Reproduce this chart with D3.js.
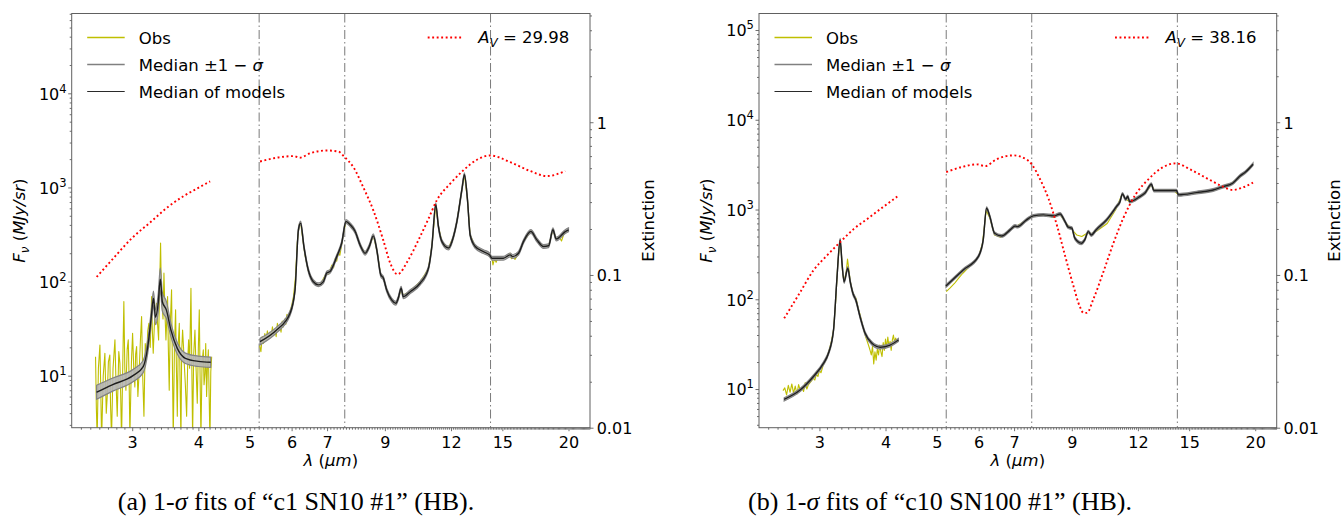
<!DOCTYPE html>
<html><head><meta charset="utf-8">
<script src="https://cdn.jsdelivr.net/npm/d3@7"></script>
<style>
body{margin:0;background:#fff;}
svg{display:block;}
text{font-family:"DejaVu Sans",sans-serif;}
</style></head><body>
<svg id="c" width="1344" height="518"></svg>
<script>
// ---------- shared axis data ----------
const X_TICKS = [3,4,5,6,7,9,12,15,20];
const SEG_LINES = [5.21, 7.56, 14.25];
const X_DOMAIN = [2.306, 21.96];
const EXT_DOMAIN = [0.01, 5.15];
const EXT_TICKS = [0.01, 0.1, 1];
const EXT_LABELS = ["0.01", "0.1", "1"];

// ---------- panel (a) ----------
const aYDomain = [2.8, 70500];
const aYTicks = [10, 100, 1000, 10000];
const aAv = "29.98";
const aCaption = ["(a) 1-", "σ", " fits of “c1 SN10 #1” (HB)."];
const aObs1 = [[2.558,15.9],[2.567,4.5],[2.576,2.2],[2.59,12],[2.607,21.2],[2.616,8],[2.626,2.0],[2.645,10],[2.664,17.3],[2.68,4],[2.691,6.0],[2.705,14],[2.722,16.6],[2.73,5],[2.742,2.2],[2.76,12],[2.783,24.0],[2.795,9],[2.811,3.7],[2.83,18],[2.844,13.5],[2.854,6],[2.864,2.0],[2.88,14],[2.893,61.3],[2.905,12],[2.919,7.0],[2.935,19],[2.949,24.0],[2.96,9],[2.970,2.3],[2.99,14],[3.005,28.2],[3.02,12],[3.035,7.6],[3.045,17],[3.058,20.4],[3.075,6],[3.093,11.5],[3.11,25],[3.125,42.5],[3.14,10],[3.157,3.7],[3.175,22],[3.194,15.9],[3.21,30],[3.226,36.1],[3.245,20],[3.264,69.3],[3.275,30],[3.287,17.3],[3.31,45],[3.336,58.9],[3.35,35],[3.365,24.0],[3.38,90],[3.394,256],[3.405,80],[3.419,54.2],[3.43,40],[3.444,122.8],[3.46,45],[3.474,24.0],[3.487,40],[3.499,69.3],[3.51,20],[3.524,7.0],[3.54,35],[3.560,81.6],[3.572,15],[3.586,2.2],[3.605,20],[3.623,50],[3.636,12],[3.650,3.7],[3.665,22],[3.682,36.1],[3.695,8],[3.708,2.0],[3.72,18],[3.735,30.6],[3.75,20],[3.762,13.5],[3.78,8],[3.801,3.7],[3.82,15],[3.834,24.0],[3.85,12],[3.873,85],[3.887,14],[3.901,2.2],[3.92,17],[3.941,30.6],[3.96,12],[3.981,5.1],[4.0,20],[4.016,50],[4.03,10],[4.045,2.2],[4.065,14],[4.087,18.8],[4.1,8],[4.117,10.6],[4.13,22],[4.146,6.0],[4.16,12],[4.177,18.8],[4.19,7],[4.207,2.0],[4.222,11],[4.238,15.9]];
const aObs2 = [[5.22,21],[5.25,18],[5.28,26],[5.31,22],[5.34,28],[5.37,24],[5.40,30],[5.43,25],[5.46,29],[5.49,26],[5.52,33],[5.55,27],[5.58,31],[5.61,26],[5.64,36],[5.67,30],[5.70,34],[5.73,29],[5.76,38],[5.79,33],[5.82,40],[5.85,35],[5.88,45],[5.91,40],[5.95,47],[6.0,55],[6.05,70],[6.10,110],[6.15,260],[6.20,400],[6.24,420],[6.30,280],[6.36,190],[6.45,130],[6.55,105],[6.65,95],[6.74,92],[6.82,96],[6.89,108],[6.95,118],[7.0,125],[7.05,120],[7.1,135],[7.15,150],[7.2,140],[7.25,175],[7.30,165],[7.35,205],[7.40,190],[7.46,250],[7.52,330],[7.60,430],[7.74,400],[7.91,340],[8.08,245],[8.26,200],[8.41,236],[8.56,306],[8.69,217],[8.84,118],[8.94,109],[9.07,82],[9.27,62],[9.44,58],[9.54,66],[9.66,82],[9.75,72],[9.9,75],[10.05,80],[10.25,88],[10.49,100],[10.7,118],[10.88,139],[11.04,236],[11.23,655],[11.36,385],[11.53,267],[11.87,227],[12.13,301],[12.31,434],[12.58,946],[12.72,1366],[12.89,740],[13.04,314],[13.33,236],[13.82,208],[14.19,192],[14.34,177],[14.4,150],[14.5,175],[14.6,160],[14.7,178],[14.85,170],[15.07,177],[15.3,182],[15.52,200],[15.6,175],[15.69,184],[15.85,172],[16.09,200],[16.45,267],[16.7,300],[16.98,350],[17.2,310],[17.43,277],[17.94,236],[18.34,240],[18.69,355],[18.96,283],[19.2,300],[19.4,270],[19.6,320],[19.72,330],[20.0,350]];
// [wavelength, median flux, 1-sigma in dex]
const aMed1 = [[2.57,6.66,0.075],[2.75,8.0,0.07],[3.01,10,0.065],[3.147,12.5,0.065],[3.21,20.4,0.07],[3.26,42.5,0.07],[3.29,66.5,0.075],[3.32,41.8,0.08],[3.36,60,0.1],[3.39,106,0.12],[3.42,61,0.1],[3.48,50,0.09],[3.55,30.6,0.07],[3.65,19.5,0.06],[3.78,15.3,0.055],[4.0,14.2,0.055],[4.22,13.9,0.055]];
const aMed2 = [[5.23,23.0,0.035],[5.62,30.6,0.03],[5.96,46.1,0.025],[6.09,81.6,0.02],[6.18,355,0.02],[6.24,418,0.02],[6.33,235,0.02],[6.45,133,0.02],[6.59,100,0.02],[6.74,92.3,0.02],[6.89,100,0.02],[6.99,123,0.02],[7.09,128,0.02],[7.30,184,0.02],[7.46,256,0.02],[7.60,434,0.02],[7.74,401,0.02],[7.91,340,0.02],[8.08,245,0.02],[8.26,200,0.02],[8.41,236,0.02],[8.56,306,0.02],[8.69,217,0.02],[8.84,118,0.02],[8.94,109,0.02],[9.07,81.6,0.02],[9.27,63.8,0.02],[9.44,58.9,0.02],[9.54,66.5,0.02],[9.66,85,0.02],[9.75,69,0.02],[10.05,78,0.02],[10.49,96,0.02],[10.88,139,0.02],[11.04,236,0.02],[11.23,655,0.02],[11.36,385,0.02],[11.53,267,0.02],[11.87,227,0.02],[12.13,301,0.02],[12.31,434,0.02],[12.58,946,0.02],[12.72,1366,0.02],[12.89,740,0.02],[13.04,314,0.02],[13.33,236,0.02],[13.82,208,0.02],[14.19,192,0.02],[14.34,177,0.02],[15.07,177,0.02],[15.52,192,0.02],[15.69,184,0.02],[16.09,200,0.02],[16.45,267,0.02],[16.98,340,0.02],[17.43,277,0.02],[17.94,236,0.02],[18.34,240,0.02],[18.69,355,0.02],[18.96,283,0.02],[19.72,340,0.02],[20.0,355,0.02]];
const aExt1 = [[2.57,0.097],[2.75,0.126],[3.0,0.175],[3.25,0.222],[3.5,0.278],[3.75,0.328],[4.0,0.372],[4.21,0.41]];
const aExt2 = [[5.23,0.553],[5.70,0.59],[6.06,0.60],[6.21,0.585],[6.51,0.627],[6.99,0.653],[7.35,0.643],[7.56,0.59],[7.85,0.508],[8.19,0.376],[8.56,0.265],[8.94,0.1685],[9.22,0.1187],[9.51,0.101],[9.96,0.125],[10.41,0.1685],[10.88,0.2335],[11.28,0.308],[11.96,0.396],[12.65,0.483],[13.43,0.568],[14.23,0.606],[15.52,0.548],[16.93,0.479],[18.2,0.444],[19.72,0.479]];

// ---------- panel (b) ----------
const bYDomain = [3.71, 152700];
const bYTicks = [10, 100, 1000, 10000, 100000];
const bAv = "38.16";
const bCaption = ["(b) 1-", "σ", " fits of “c10 SN100 #1” (HB)."];
const bObs1 = [[2.56,9.6],[2.58,10.3],[2.60,8.6],[2.62,11.0],[2.64,9.2],[2.66,11.4],[2.68,9.0],[2.70,10.8],[2.72,8.8],[2.74,11.2],[2.76,9.6],[2.78,10.4],[2.80,9.4],[2.82,11.8],[2.84,10.0],[2.86,11.2],[2.88,11.8],[2.90,12.4],[2.92,13.2],[2.94,12.6],[2.96,14.6],[2.98,13.8],[3.00,16.0],[3.02,15.2],[3.05,18.5],[3.08,20.5],[3.12,25.5],[3.16,34],[3.19,46],[3.22,95],[3.25,250],[3.28,440],[3.30,330],[3.32,190],[3.34,160],[3.37,200],[3.39,280],[3.41,215],[3.43,160],[3.46,125],[3.49,110],[3.52,102],[3.55,80],[3.58,68],[3.61,55],[3.64,45],[3.67,38],[3.70,33],[3.72,30],[3.74,27],[3.76,24],[3.78,30],[3.80,19],[3.82,26],[3.84,21],[3.86,28],[3.88,24],[3.90,31],[3.92,26],[3.94,23],[3.96,33],[3.98,27],[4.00,36],[4.02,29],[4.04,38],[4.06,30],[4.08,34],[4.10,27],[4.12,35],[4.14,40],[4.16,33],[4.18,37],[4.20,34],[4.23,35]];
const bObs2 = [[5.21,122],[5.3,134],[5.4,150],[5.5,172],[5.6,195],[5.8,240],[6.0,300],[6.1,420],[6.2,980],[6.3,800],[6.43,520],[6.6,490],[6.88,600],[7.1,660],[7.4,770],[7.6,850],[8.0,870],[8.3,820],[8.55,880],[8.75,720],[9.0,600],[9.2,520],[9.4,500],[9.6,540],[9.8,540],[10.0,570],[10.5,700],[10.9,1000],[11.2,1480],[11.4,1300],[11.6,1210],[12.1,1380],[12.4,1530],[12.73,1880],[12.9,1640],[13.3,1640],[14.0,1650],[14.3,1470],[15.0,1520],[15.5,1520],[16.0,1560],[16.65,1630],[17.4,1800],[18.1,1990],[18.7,2300],[19.2,2680],[19.8,3250]];
const bMed1 = [[2.573,7.67,0.018],[2.758,9.75,0.018],[2.92,13.7,0.018],[3.053,19.3,0.018],[3.12,25.0,0.018],[3.19,45.5,0.018],[3.236,164,0.018],[3.283,458,0.018],[3.31,252,0.018],[3.34,157,0.018],[3.394,222,0.018],[3.43,157,0.018],[3.47,117,0.018],[3.515,98,0.018],[3.58,64,0.018],[3.66,41.8,0.018],[3.77,32.3,0.018],[3.907,29.2,0.018],[4.08,30.9,0.018],[4.23,35.2,0.018]];
const bMed2 = [[5.205,140.6,0.015],[5.61,212,0.015],[5.99,298,0.015],[6.12,458,0.015],[6.21,1034,0.015],[6.30,834,0.015],[6.43,544,0.015],[6.63,508,0.015],[6.88,593,0.015],[7.03,656,0.015],[7.11,645,0.015],[7.39,766,0.015],[7.61,849,0.015],[7.95,871,0.015],[8.34,849,0.015],[8.55,893,0.015],[8.74,733,0.015],[8.86,635,0.015],[9.0,620,0.015],[9.12,479,0.015],[9.39,421,0.015],[9.52,458,0.015],[9.67,567,0.015],[9.8,521,0.015],[10.0,593,0.015],[10.47,766,0.015],[10.93,1077,0.015],[11.1,1224,0.015],[11.22,1493,0.015],[11.38,1303,0.015],[11.48,1395,0.015],[11.58,1224,0.015],[12.10,1395,0.015],[12.39,1542,0.015],[12.73,1915,0.015],[12.86,1626,0.015],[13.34,1626,0.015],[14.2,1626,0.015],[14.32,1455,0.015],[15.49,1542,0.015],[16.65,1652,0.015],[17.38,1799,0.015],[18.13,1963,0.015],[18.67,2328,0.015],[19.22,2650,0.015],[19.81,3200,0.015]];
const bExt1 = [[2.573,0.052],[2.758,0.077],[2.92,0.1067],[3.097,0.1336],[3.283,0.164],[3.48,0.1995],[3.69,0.232],[3.95,0.277],[4.21,0.326]];
const bExt2 = [[5.21,0.472],[5.61,0.512],[5.95,0.53],[6.17,0.516],[6.48,0.571],[6.98,0.6065],[7.39,0.571],[7.56,0.53],[7.84,0.423],[8.14,0.313],[8.44,0.21],[8.74,0.1337],[9.06,0.0852],[9.33,0.0615],[9.47,0.0565],[9.61,0.0565],[9.89,0.0697],[10.32,0.104],[10.77,0.159],[11.24,0.232],[11.89,0.3375],[12.56,0.423],[13.34,0.504],[14.13,0.538],[15.15,0.486],[16.33,0.423],[17.38,0.379],[18.13,0.36],[18.9,0.373],[19.81,0.4025]];

// ---------- drawing ----------
const svg = d3.select("#c");
const TOP = 13.5, BOT = 427.7;
const OBS_C = "#bfbf00", MED_C = "#1e1e1e", BAND_F = "#b4b4b4", BAND_E = "#838383", SPINE = "#606060";

function drawPanel(P, idx){
  const x = d3.scaleLog().domain(X_DOMAIN).range([P.x0, P.x1]);
  const y = d3.scaleLog().domain(P.yDomain).range([BOT, TOP]);
  const ye = d3.scaleLog().domain(EXT_DOMAIN).range([BOT, TOP]);
  const g = svg.append("g");
  const cid = "clip" + idx;
  svg.append("clipPath").attr("id", cid).append("rect")
    .attr("x", P.x0).attr("y", TOP).attr("width", P.x1 - P.x0).attr("height", BOT - TOP);
  const plot = g.append("g").attr("clip-path", `url(#${cid})`);

  // segment separators
  plot.selectAll("line.sep").data(SEG_LINES).enter().append("line")
    .attr("x1", d => x(d)).attr("x2", d => x(d)).attr("y1", TOP).attr("y2", BOT)
    .attr("stroke", "#7a7a7a").attr("stroke-width", 1).attr("stroke-dasharray", "9,3,1.5,3");

  // observations
  const lObs = d3.line().x(d => x(d[0])).y(d => y(d[1]));
  [P.obs1, P.obs2].forEach(s => plot.append("path").attr("d", lObs(s))
    .attr("fill", "none").attr("stroke", OBS_C).attr("stroke-width", 1.1).attr("stroke-linejoin", "round"));

  // 1-sigma band
  const area = d3.area().curve(d3.curveMonotoneX).x(d => x(d[0]))
    .y0(d => y(d[1] / Math.pow(10, d[2]))).y1(d => y(d[1] * Math.pow(10, d[2])));
  [P.med1, P.med2].forEach(s => plot.append("path").attr("d", area(s))
    .attr("fill", BAND_F).attr("fill-opacity", 0.9).attr("stroke", BAND_E).attr("stroke-width", 1.2));

  // median
  const lMed = d3.line().curve(d3.curveMonotoneX).x(d => x(d[0])).y(d => y(d[1]));
  [P.med1, P.med2].forEach(s => plot.append("path").attr("d", lMed(s))
    .attr("fill", "none").attr("stroke", MED_C).attr("stroke-width", 1.4));

  // extinction
  const lExt = d3.line().curve(d3.curveMonotoneX).x(d => x(d[0])).y(d => ye(d[1]));
  [P.ext1, P.ext2].forEach(s => plot.append("path").attr("d", lExt(s))
    .attr("fill", "none").attr("stroke", "#ff0000").attr("stroke-width", 1.9).attr("stroke-dasharray", "1.9,2.6"));

  // spines
  g.append("rect").attr("x", P.x0).attr("y", TOP).attr("width", P.x1 - P.x0).attr("height", BOT - TOP)
    .attr("fill", "none").attr("stroke", SPINE).attr("stroke-width", 1);

  // x axis
  const minorX = d3.range(24, 220).map(v => v / 10).filter(v => v > X_DOMAIN[0] && v < X_DOMAIN[1] && !X_TICKS.includes(v));
  const axM = g.append("g").attr("transform", `translate(0,${BOT})`)
    .call(d3.axisBottom(x).tickValues(minorX).tickSize(2).tickFormat(""));
  const axX = g.append("g").attr("transform", `translate(0,${BOT})`)
    .call(d3.axisBottom(x).tickValues(X_TICKS).tickSize(3.5).tickPadding(5.5).tickFormat(d3.format("d")));
  // left y axis
  const minorY = [];
  for (let e = 0; e < 6; e++) for (let m = 2; m < 10; m++) { const v = m * Math.pow(10, e); if (v > P.yDomain[0] && v < P.yDomain[1]) minorY.push(v); }
  const ayM = g.append("g").attr("transform", `translate(${P.x0},0)`)
    .call(d3.axisLeft(y).tickValues(minorY).tickSize(2).tickFormat(""));
  const ayX = g.append("g").attr("transform", `translate(${P.x0},0)`)
    .call(d3.axisLeft(y).tickValues(P.yTicks).tickSize(3.5).tickPadding(1.6).tickFormat(""));
  ayX.selectAll(".tick text").each(function(d){
    const t = d3.select(this).attr("dy", null).attr("y", 5.8).attr("text-anchor", "end");
    t.append("tspan").text("10");
    t.append("tspan").attr("font-size", "11.5px").attr("dy", "-7").text(Math.round(Math.log10(d)));
  });
  // right (extinction) axis
  const minorE = [];
  for (let e = -2; e < 1; e++) for (let m = 2; m < 10; m++) { const v = m * Math.pow(10, e); if (v < EXT_DOMAIN[1]) minorE.push(v); }
  const aeM = g.append("g").attr("transform", `translate(${P.x1},0)`)
    .call(d3.axisRight(ye).tickValues(minorE).tickSize(2).tickFormat(""));
  const aeX = g.append("g").attr("transform", `translate(${P.x1},0)`)
    .call(d3.axisRight(ye).tickValues(EXT_TICKS).tickSize(3.5).tickPadding(3.2).tickFormat((d, i) => EXT_LABELS[i]));
  aeX.selectAll(".tick text").attr("dy", null).attr("y", 5.8);

  [axM, axX, ayM, ayX, aeM, aeX].forEach(a => {
    a.select(".domain").remove();
    a.attr("font-family", null).attr("font-size", null);
    a.selectAll(".tick line").attr("stroke", SPINE).attr("stroke-width", 0.9);
    a.selectAll(".tick text").attr("fill", "#000").style("font-size", "16px").style("font-family", "DejaVu Sans");
  });

  // axis labels
  const xc = (P.x0 + P.x1) / 2, yc = (TOP + BOT) / 2;
  const xl = g.append("text").attr("x", xc).attr("y", 466).attr("text-anchor", "middle").style("font-size", "16.5px");
  xl.append("tspan").style("font-style", "italic").text("λ");
  xl.append("tspan").text(" (");
  xl.append("tspan").style("font-style", "italic").text("μm");
  xl.append("tspan").text(")");

  const yl = g.append("text").attr("transform", `translate(${P.x0 - 47},${yc}) rotate(-90)`)
    .attr("text-anchor", "middle").style("font-size", "16.5px");
  yl.append("tspan").style("font-style", "italic").text("F");
  yl.append("tspan").style("font-style", "italic").style("font-size", "12px").attr("dy", 4).text("ν");
  yl.append("tspan").attr("dy", -4).text("  (");
  yl.append("tspan").style("font-style", "italic").text("MJy/sr");
  yl.append("tspan").text(")");

  g.append("text").attr("transform", `translate(${P.x1 + 63.5},${yc}) rotate(-90)`)
    .attr("text-anchor", "middle").style("font-size", "16.5px").text("Extinction");

  // legend (upper left)
  const leg = [
    {label: ["Obs"], color: OBS_C, w: 1.5},
    {label: ["Median ±1 − ", "σ"], color: "#808080", w: 1.6},
    {label: ["Median of models"], color: "#2a2a2a", w: 1.1}
  ];
  leg.forEach((L, i) => {
    const yy = 37.5 + i * 27;
    g.append("line").attr("x1", P.x0 + 15.5).attr("x2", P.x0 + 53).attr("y1", yy).attr("y2", yy)
      .attr("stroke", L.color).attr("stroke-width", L.w);
    const t = g.append("text").attr("x", P.x0 + 67).attr("y", yy + 6).style("font-size", "16.5px");
    t.append("tspan").text(L.label[0]);
    if (L.label[1]) t.append("tspan").style("font-style", "italic").text(L.label[1]);
  });
  // legend (upper right, A_V)
  g.append("line").attr("x1", P.x0 + 356).attr("x2", P.x0 + 391).attr("y1", 37.5).attr("y2", 37.5)
    .attr("stroke", "#ff0000").attr("stroke-width", 1.9).attr("stroke-dasharray", "1.9,2.6");
  const av = g.append("text").attr("x", P.x0 + 406.5).attr("y", 43).style("font-size", "16.5px");
  av.append("tspan").style("font-style", "italic").text("A");
  av.append("tspan").style("font-style", "italic").style("font-size", "12px").attr("dy", 4).text("V");
  av.append("tspan").attr("dy", -4).text(" = " + P.av);

  // caption
  const cap = svg.append("text").attr("x", P.capX).attr("y", 510).attr("text-anchor", "middle")
    .style("font-family", "Liberation Serif, Times New Roman, serif").style("font-size", "26px");
  cap.append("tspan").text(P.caption[0]);
  cap.append("tspan").style("font-style", "italic").text(P.caption[1]);
  cap.append("tspan").text(P.caption[2]);
}

drawPanel({x0: 71.7, x1: 590, yDomain: aYDomain, yTicks: aYTicks, obs1: aObs1, obs2: aObs2,
  med1: aMed1, med2: aMed2, ext1: aExt1, ext2: aExt2, av: aAv, caption: aCaption, capX: 296}, 0);
drawPanel({x0: 759, x1: 1276.7, yDomain: bYDomain, yTicks: bYTicks, obs1: bObs1, obs2: bObs2,
  med1: bMed1, med2: bMed2, ext1: bExt1, ext2: bExt2, av: bAv, caption: bCaption, capX: 940}, 1);
</script>
</body></html>
